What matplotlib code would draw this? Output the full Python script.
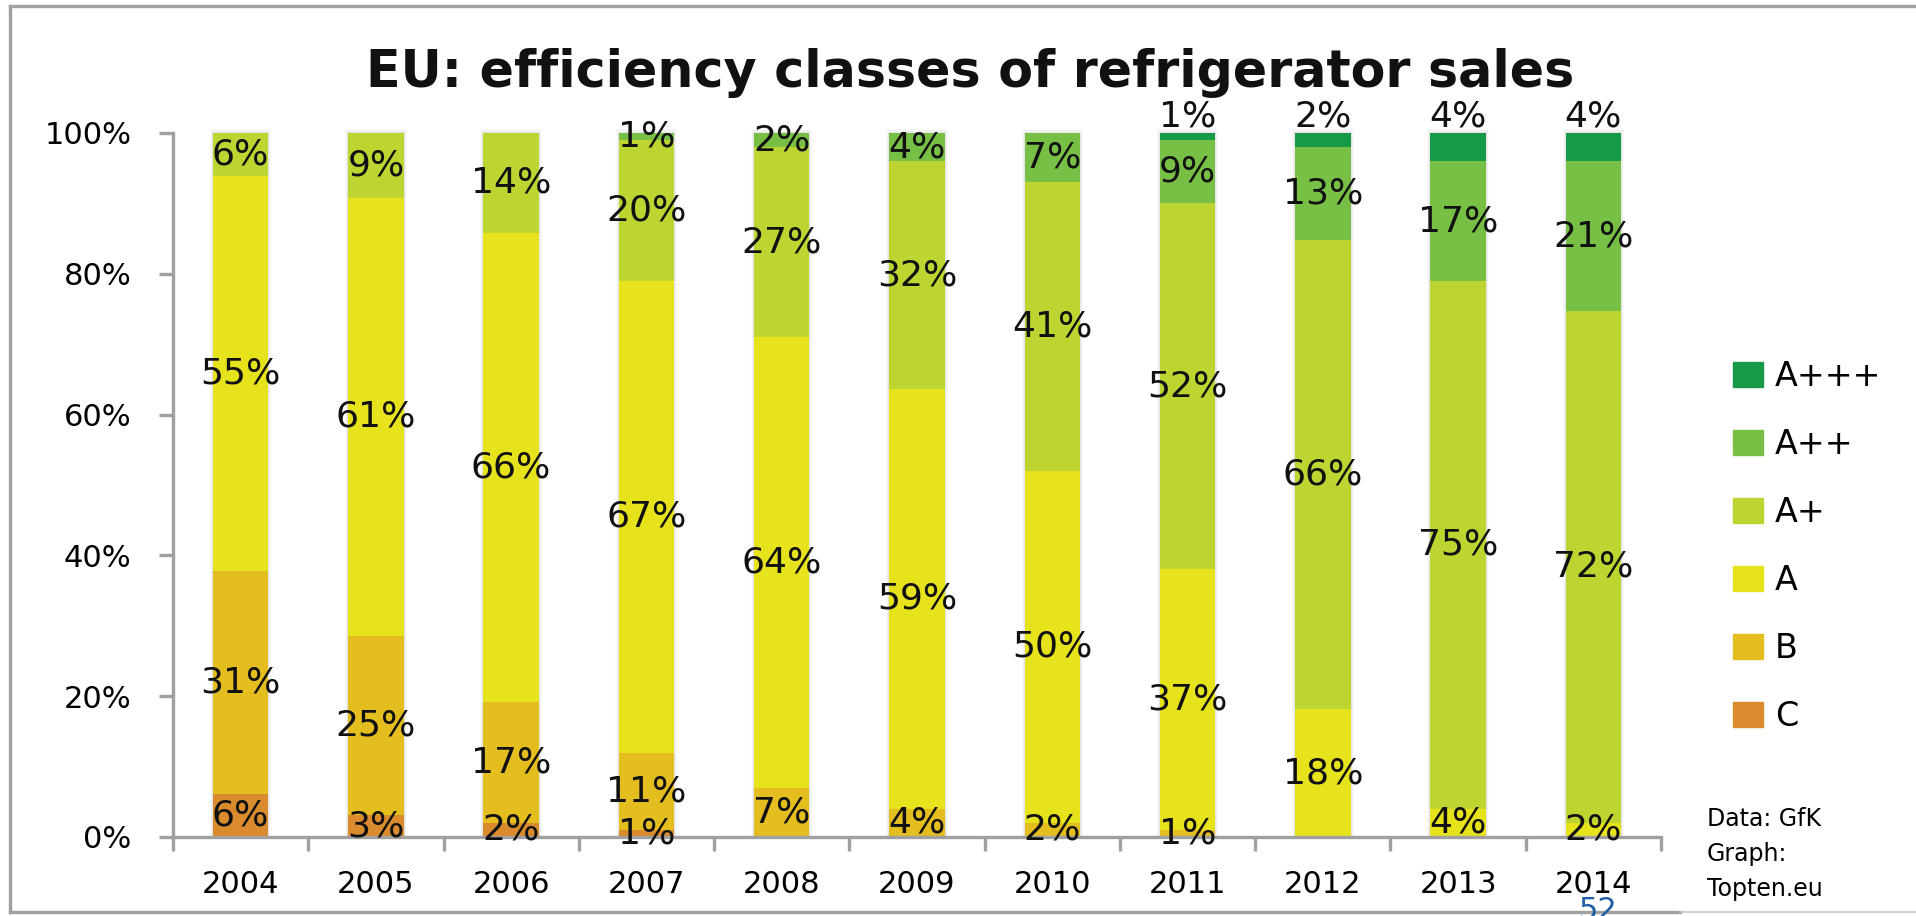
import numpy as np
import matplotlib
matplotlib.use('Agg')
import matplotlib.pyplot as plt
from matplotlib.lines import Line2D
from matplotlib.patches import Rectangle

years = ['2004', '2005', '2006', '2007', '2008', '2009', '2010', '2011', '2012', '2013', '2014']
classes = ['C', 'B', 'A', 'A+', 'A++', 'A+++']

c_vals = [6, 3, 2, 1, 0, 0, 0, 0, 0, 0, 0]
b_vals = [31, 25, 17, 11, 7, 4, 2, 1, 0, 0, 0]
a_vals = [55, 61, 66, 67, 64, 59, 50, 37, 18, 4, 2]
ap_vals = [6, 9, 14, 20, 27, 32, 41, 52, 66, 75, 72]
app_vals = [0, 0, 0, 1, 2, 4, 7, 9, 13, 17, 21]
appp_vals = [0, 0, 0, 0, 0, 0, 0, 1, 2, 4, 4]

colors = ['#d98b2d', '#e4bd1e', '#e6e21b', '#bed531', '#78c045', '#169a47']

W, H = 1916, 916
fig = plt.figure(figsize=(W / 100, H / 100), dpi=100)
ax = fig.add_axes([173 / W, 1 - 837 / H, (1661 - 173) / W, (837 - 133) / H])

series = [c_vals, b_vals, a_vals, ap_vals, app_vals, appp_vals]
raw = np.array(series, dtype=float)
totals = raw.sum(axis=0)
shares = raw / totals * 100

x = np.arange(len(years))
bw = 0.41

# soft shadow behind the bars (excel style)
for k, a in [(0.05, 0.04), (0.03, 0.07), (0.015, 0.10)]:
    ax.bar(x, 100 + k * 12, width=bw + k, bottom=0, color='#808080', alpha=a,
           linewidth=0, clip_on=False, zorder=1)

bottom = np.zeros(len(years))
for i, cls in enumerate(classes):
    ax.bar(x, shares[i], width=bw, bottom=bottom, color=colors[i], label=cls,
           linewidth=0, clip_on=False, zorder=2)
    for j in range(len(years)):
        v = series[i][j]
        if v == 0:
            continue
        if cls == 'A+++':
            y = 102.4
        else:
            y = bottom[j] + shares[i][j] / 2
        ax.text(x[j], y, f'{v}%', ha='center', va='center', fontsize=26,
                color='#111111', zorder=5, clip_on=False)
    bottom += shares[i]

ax.set_xlim(-0.5, len(years) - 0.5)
ax.set_ylim(0, 100)

for s in ['top', 'right']:
    ax.spines[s].set_visible(False)
for s in ['left', 'bottom']:
    ax.spines[s].set_color('#a0a0a0')
    ax.spines[s].set_linewidth(2.4)

ax.set_yticks([0, 20, 40, 60, 80, 100])
ax.set_yticklabels(['0%', '20%', '40%', '60%', '80%', '100%'])
ax.tick_params(axis='y', direction='out', length=10, width=2.4, color='#a0a0a0',
               labelsize=22, pad=20)

ax.set_xticks(x)
ax.set_xticklabels(years)
ax.tick_params(axis='x', which='major', length=0, labelsize=22, pad=24)
ax.set_xticks(np.arange(-0.5, len(years), 1.0), minor=True)
ax.tick_params(axis='x', which='minor', direction='out', length=10, width=2.4,
               color='#a0a0a0')

fig.text(970 / W, 1 - 73 / H, 'EU: efficiency classes of refrigerator sales',
         ha='center', va='center', fontsize=36.5, fontweight='bold', color='#111111')

# legend, top entry first
handles = [Rectangle((0, 0), 1, 1, color=colors[i]) for i in range(len(classes))][::-1]
labels = classes[::-1]
fig.legend(handles, labels, loc='upper left', bbox_to_anchor=(1703 / W, 1 - 330 / H),
           frameon=False, fontsize=24, handlelength=0.9, handleheight=0.75,
           labelspacing=1.05, handletextpad=0.35)

fig.text(1707 / W, 1 - 819 / H, 'Data: GfK', fontsize=17, va='center', ha='left')
fig.text(1707 / W, 1 - 854 / H, 'Graph:', fontsize=17, va='center', ha='left')
fig.text(1707 / W, 1 - 889 / H, 'Topten.eu', fontsize=17, va='center', ha='left')

fig.text(1598 / W, 1 - 896 / H, '52', fontsize=22, va='top', ha='center', color='#1f5fa8')

# outer frame
gray = '#a0a0a0'
fig.add_artist(Line2D([10 / W, 1], [1 - 6 / H, 1 - 6 / H], color=gray, lw=2.4))
fig.add_artist(Line2D([10 / W, 10 / W], [1 - 6 / H, 1 - 912 / H], color=gray, lw=2.4))
fig.add_artist(Line2D([10 / W, 1680 / W], [1 - 912 / H, 1 - 912 / H], color=gray, lw=2.4))
fig.add_artist(Line2D([1680 / W, 1], [1 - 912 / H, 1 - 912 / H], color='#c8c8c8', lw=1.2))

fig.savefig('out.png', dpi=100)
